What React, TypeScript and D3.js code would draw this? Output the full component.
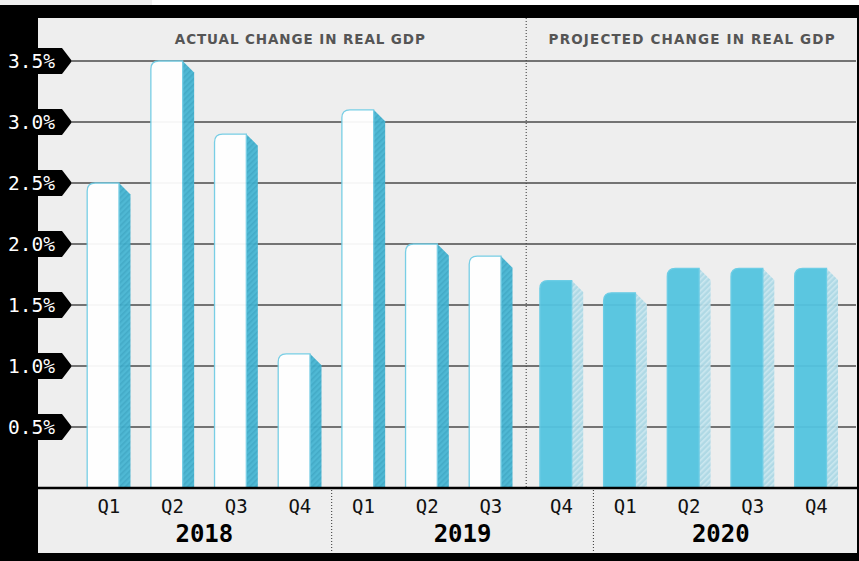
import React from "react";
import * as d3 from "d3";

const quarters = ["Q1", "Q2", "Q3", "Q4", "Q1", "Q2", "Q3", "Q4", "Q1", "Q2", "Q3", "Q4"];
const years = ["2018", "2018", "2018", "2018", "2019", "2019", "2019", "2019", "2020", "2020", "2020", "2020"];
const values = [2.5, 3.5, 2.9, 1.1, 3.1, 2.0, 1.9, 1.7, 1.6, 1.8, 1.8, 1.8];
const projected = [false, false, false, false, false, false, false, true, true, true, true, true];
const yTicks = [0.5, 1.0, 1.5, 2.0, 2.5, 3.0, 3.5];
const headers = ["ACTUAL CHANGE IN REAL GDP", "PROJECTED CHANGE IN REAL GDP"];
const yearLabels = ["2018", "2019", "2020"];

const W = 859;
const H = 561;
const panelL = 38, panelR = 857, panelT = 18, panelB = 553;
const baseY = 488;
const depth = 11.5;
const mono = "'DejaVu Sans Mono', monospace";

export default function App() {
  const idx = values.map((_, i) => i);
  const actualIdx = idx.filter((i) => !projected[i]);
  const projIdx = idx.filter((i) => projected[i]);
  const xA = d3.scaleBand<number>().domain(actualIdx).range([77, 522.7]).paddingInner(0.32).paddingOuter(0.16);
  const xP = d3.scaleBand<number>().domain(projIdx).range([529.7, 848.2]).paddingInner(0.32).paddingOuter(0.16);
  const xs = (i: number) => (projected[i] ? xP : xA);
  const y = d3.scaleLinear().domain([0, 3.5]).range([baseY, 61]);

  const bandStart = (i: number) => {
    const s = xs(i);
    return (s(i) as number) - (s.step() - s.bandwidth()) / 2;
  };
  const bandCenter = (i: number) => (xs(i)(i) as number) + xs(i).bandwidth() / 2;
  const sep = (xA.range()[1] + xP.range()[0]) / 2;

  const yearGroups = yearLabels.map((yr) => {
    const ii = idx.filter((i) => years[i] === yr);
    const a = bandStart(ii[0]);
    const last = ii[ii.length - 1];
    const b = bandStart(last) + xs(last).step();
    return { yr, a, b };
  });

  const frontPath = (x: number, w: number, top: number) => {
    const r = 8;
    return `M${x},${baseY} L${x},${top + r} Q${x},${top} ${x + r},${top} L${x + w},${top} L${x + w},${baseY} Z`;
  };
  const sidePath = (x: number, top: number) =>
    `M${x},${top} L${x + depth},${top + depth} L${x + depth},${baseY} L${x},${baseY} Z`;

  return (
    <svg width={W} height={H} style={{ position: "absolute", left: 0, top: 0 }}>
      <defs>
        <pattern id="hatchA" width="4" height="4" patternUnits="userSpaceOnUse" patternTransform="rotate(45)">
          <rect width="4" height="4" fill="#47b6d3" />
          <rect width="1.6" height="4" fill="#3ba7c6" />
        </pattern>
        <pattern id="hatchP" width="4" height="4" patternUnits="userSpaceOnUse" patternTransform="rotate(45)">
          <rect width="4" height="4" fill="#acd8e5" />
          <rect width="1.6" height="4" fill="#cae8f0" />
        </pattern>
      </defs>
      <rect x={0} y={0} width={W} height={H} fill="#ffffff" />
      <rect x={0} y={0} width={152} height={5} fill="#efefef" />
      <rect x={0} y={5} width={W} height={H - 5} fill="#000000" />
      <rect x={panelL} y={panelT} width={panelR - panelL} height={panelB - panelT} fill="#eeeeee" />

      {headers.map((h, k) => (
        <text
          key={h}
          x={k === 0 ? (xA.range()[0] + xA.range()[1]) / 2 : (sep + panelR) / 2}
          y={43.5}
          textAnchor="middle"
          fontFamily="'DejaVu Sans', sans-serif"
          fontWeight={700}
          fontSize={13.5}
          fill="#555555"
          textLength={k === 0 ? 250 : 286}
          lengthAdjust="spacing"
        >
          {h}
        </text>
      ))}

      <line x1={sep} x2={sep} y1={panelT} y2={baseY} stroke="#333" strokeWidth={1} strokeDasharray="1,2" />

      {yTicks.map((t) => (
        <line key={"g" + t} x1={72} x2={856} y1={y(t)} y2={y(t)} stroke="#4a4a4a" strokeWidth={1.5} />
      ))}

      {idx.map((i) => {
        const s = xs(i);
        const x0 = s(i) as number;
        const fw = s.bandwidth() - depth;
        const top = y(values[i]);
        const p = projected[i];
        return (
          <g key={"b" + i} opacity={0.95}>
            <path d={sidePath(x0 + fw, top)} fill={p ? "url(#hatchP)" : "url(#hatchA)"} />
            <path
              d={frontPath(x0, fw, top)}
              fill={p ? "#54c4e0" : "#ffffff"}
              stroke={p ? "#66cce5" : "#72cde5"}
              strokeWidth={1.3}
            />
          </g>
        );
      })}

      {yTicks.map((t) => {
        const yy = y(t);
        return (
          <g key={"t" + t}>
            <polygon points={`${panelL},${yy - 13} 62,${yy - 13} 72,${yy} 62,${yy + 13} ${panelL},${yy + 13}`} fill="#000" />
            <text x={8} y={yy + 7} fontFamily={mono} fontSize={19.5} fill="#ffffff">
              {t.toFixed(1) + "%"}
            </text>
          </g>
        );
      })}

      <line x1={panelL} x2={panelR} y1={baseY} y2={baseY} stroke="#000" strokeWidth={2.5} />

      {yearGroups.slice(1).map((g) => (
        <line key={"s" + g.yr} x1={g.a} x2={g.a} y1={baseY + 2} y2={panelB} stroke="#333" strokeWidth={1} strokeDasharray="1,2" />
      ))}

      {idx.map((i) => (
        <text key={"q" + i} x={bandCenter(i)} y={513} textAnchor="middle" fontFamily={mono} fontSize={19} fill="#111">
          {quarters[i]}
        </text>
      ))}

      {yearGroups.map((g) => (
        <text key={"y" + g.yr} x={(g.a + g.b) / 2} y={542} textAnchor="middle" fontFamily={mono} fontWeight={700} fontSize={24} fill="#000">
          {g.yr}
        </text>
      ))}
    </svg>
  );
}
